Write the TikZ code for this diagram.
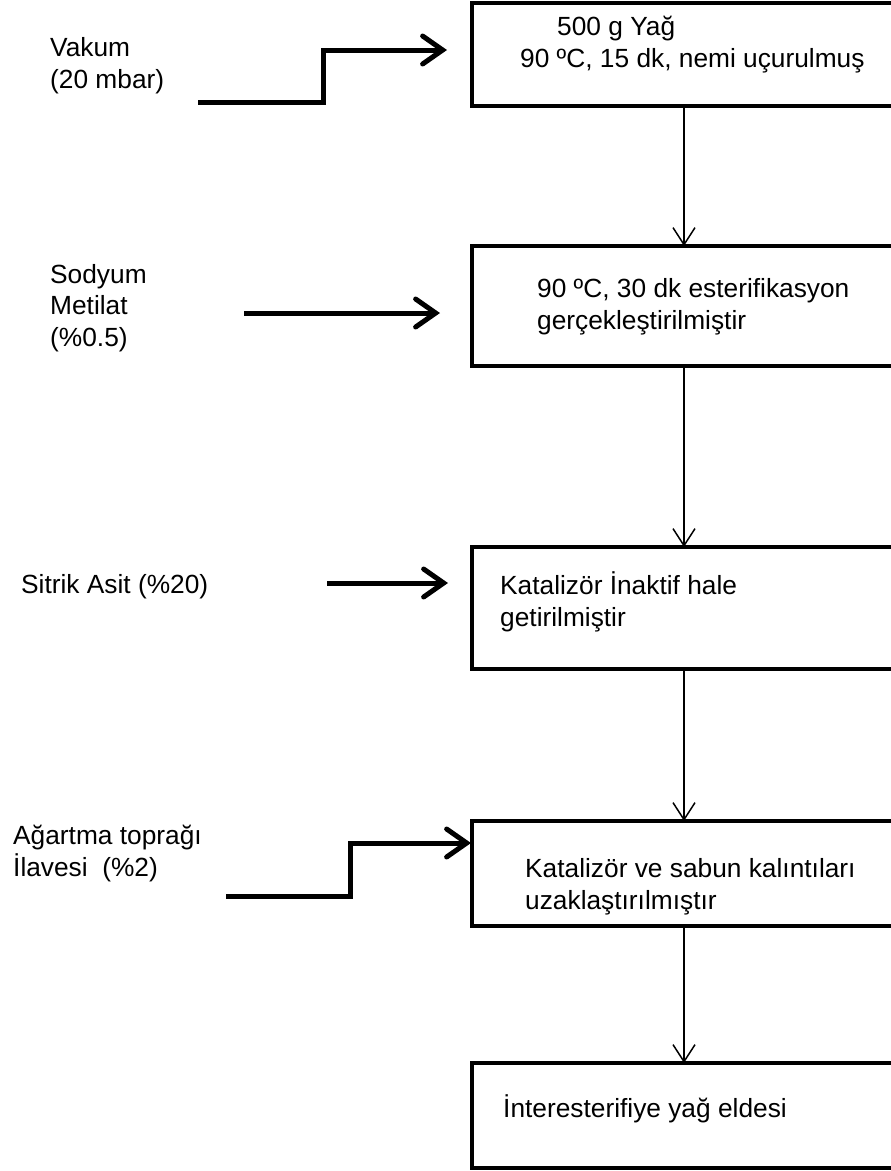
\documentclass[tikz,border=0pt]{standalone}
\usepackage{fontspec}
\setmainfont{Liberation Sans}
\usetikzlibrary{arrows.meta,calc}

\begin{document}
\begin{tikzpicture}[x=1pt,y=-1pt,
  box node/.style={draw,line width=4.5pt,minimum width=424pt,anchor=north west,inner sep=0pt,outer sep=0pt},
  text node/.style={anchor=base west,align=left,inner sep=0pt,font=\fontsize{26.3}{31.5}\selectfont},
  flow/.style={-{Straight Barb[length=17pt,width=22pt]},line width=1.5pt},
  feed/.style={-{Straight Barb[length=20pt,width=28pt,line cap=round]},line width=5pt}]

  \useasboundingbox (0,0) rectangle (891,1171);
  \clip (0,0) rectangle (891,1171);

  % process steps
  \node[box node,minimum height=103pt] (1) at (472,3) {};
  \node[box node,minimum height=120pt] (2) at (472,246) {};
  \node[box node,minimum height=122pt] (3) at (472,547) {};
  \node[box node,minimum height=105pt] (4) at (472,821) {};
  \node[box node,minimum height=105pt] (5) at (472,1063) {};

  % (base anchor sits on the last line)
  \node[text node] (t1) at (520,67) {\hspace*{37pt}500 g Yağ\\90 ºC, 15 dk, nemi uçurulmuş};
  \node[text node] (t2) at (537,329) {90 ºC, 30 dk esterifikasyon\\gerçekleştirilmiştir};
  \node[text node] (t3) at (500,626) {Katalizör İnaktif hale\\getirilmiştir};
  \node[text node] (t4) at (525,909) {Katalizör ve sabun kalıntıları\\uzaklaştırılmıştır};
  \node[text node] (t5) at (503,1117) {İnteresterifiye yağ eldesi};

  % inputs
  \node[text node] (i1) at (50,88) {Vakum\\(20 mbar)};
  \node[text node] (i2) at (50,346) {Sodyum\\Metilat\\(\%0.5)};
  \node[text node] (i3) at (21,593) {Sitrik Asit (\%20)};
  \node[text node] (i4) at (13,876) {Ağartma toprağı\\İlavesi\ \ (\%2)};

  \coordinate (s1) at (198,102);
  \coordinate (k1) at (323,50);
  \coordinate (s2) at (244,313);
  \coordinate (s3) at (327,583);
  \coordinate (s4) at (226,896);
  \coordinate (k4) at (350,843);

  \draw[feed,shorten >=25pt] (s1) -| (k1) -- (k1 -| 1.west);
  \draw[feed,shorten >=32pt] (s2) -- (s2 -| 2.west);
  \draw[feed,shorten >=24pt] (s3) -- (s3 -| 3.west);
  \draw[feed,shorten >=1pt] (s4) -| (k4) -- (k4 -| 4.west);

  \path[flow]
    (1) edge (2)
    (2) edge (3)
    (3) edge (4)
    (4) edge (5);
\end{tikzpicture}
\end{document}
